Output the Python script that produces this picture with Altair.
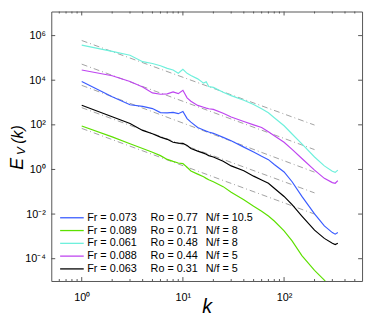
import altair as alt
import pandas as pd

# ---------------- data ----------------
k_values = [1, 2, 3, 4, 5, 6, 7, 8, 9, 10, 11, 12, 14, 16, 17, 18, 20,
            25, 30, 40, 50, 60, 70, 80, 100, 120, 150, 200, 250, 300, 320, 340]

# log10(E_V) read at each k
blue_log = [3.94, 3.26, 2.90, 2.83, 2.73, 2.55, 2.54, 2.56, 2.50, 2.60, 2.28, 2.12, 1.88, 1.77, 1.72, 1.68, 1.62,
            1.44, 1.29, 1.00, 0.78, 0.59, 0.44, 0.22, -0.11, -0.55, -1.21, -1.99, -2.53, -2.83, -2.90, -2.83]
green_log = [1.95, 1.46, 1.15, 0.94, 0.77, 0.62, 0.45, 0.36, 0.29, 0.26, 0.10, -0.07, -0.21, -0.33, -0.40, -0.46, -0.55,
             -0.77, -1.02, -1.36, -1.65, -1.87, -2.09, -2.31, -2.75, -3.20, -3.86, -4.52, -4.96, -5.40, -5.50, -5.30]
cyan_log = [5.57, 5.29, 5.12, 4.83, 4.75, 4.65, 4.53, 4.46, 4.31, 4.49, 4.31, 4.21, 4.06, 3.87, 3.93, 3.72, 3.68,
            3.46, 3.31, 3.10, 2.91, 2.72, 2.54, 2.32, 1.96, 1.59, 1.15, 0.56, 0.16, -0.08, -0.13, -0.03]
magenta_log = [4.46, 4.20, 3.94, 3.70, 3.43, 3.37, 3.39, 3.48, 3.40, 3.55, 3.21, 3.06, 2.87, 2.79, 2.75, 2.72, 2.69,
               2.52, 2.35, 2.15, 2.00, 1.88, 1.69, 1.51, 1.22, 0.90, 0.49, -0.03, -0.40, -0.59, -0.62, -0.50]
black_log = [2.88, 2.36, 2.06, 1.75, 1.60, 1.45, 1.35, 1.22, 1.18, 1.17, 1.07, 0.94, 0.82, 0.73, 0.68, 0.62, 0.56,
             0.37, 0.16, -0.06, -0.30, -0.47, -0.62, -0.84, -1.21, -1.58, -2.09, -2.72, -3.09, -3.31, -3.37, -3.31]

series_names = ["blue", "green", "cyan", "magenta", "black"]
series_colors = ["#3a5cff", "#5de000", "#6ff0dc", "#bf45f0", "#000000"]
series_logs = [blue_log, green_log, cyan_log, magenta_log, black_log]

fr_labels = ["Fr = 0.073", "Fr = 0.089", "Fr = 0.061", "Fr = 0.088", "Fr = 0.063"]
ro_labels = ["Ro = 0.77", "Ro = 0.71", "Ro = 0.48", "Ro = 0.44", "Ro = 0.31"]
nf_labels = ["N/f = 10.5", "N/f = 8", "N/f = 8", "N/f = 5", "N/f = 5"]

# k^-5/3 reference lines: log10 E at k = 1 and at k = 200
ref_k = [1, 200]
ref_start_log = [5.78, 4.72, 3.77, 2.77, 1.84]
ref_end_log = [1.99, 0.89, -0.12, -1.05, -2.00]

x_major = [1, 10, 100]
x_minor = [0.6, 0.7, 0.8, 0.9, 2, 3, 4, 5, 6, 7, 8, 9, 20, 30, 40, 50, 60, 70, 80, 90, 200, 300, 400, 500]
y_major = [1e-4, 1e-2, 1, 1e2, 1e4, 1e6]

# ---------------- tables ----------------
rows = []
for name, logs in zip(series_names, series_logs):
    for k, v in zip(k_values, logs):
        rows.append({"series": name, "k": k, "logE": v})
curve_df = pd.DataFrame(rows)

ref_rows = []
for i, (a, b) in enumerate(zip(ref_start_log, ref_end_log)):
    ref_rows.append({"ref": i, "k": ref_k[0], "logE": a})
    ref_rows.append({"ref": i, "k": ref_k[1], "logE": b})
ref_df = pd.DataFrame(ref_rows)

leg_df = pd.DataFrame({"row": list(range(5)), "series": series_names,
                       "fr": fr_labels, "ro": ro_labels, "nf": nf_labels})

W, H = 316, 274
FONT = "Liberation Sans"
FRAME = "#555555"

xs = alt.Scale(type="log", domain=[0.5, 590], nice=False)
ys = alt.Scale(type="log", domain=[1e-5, 1.2e7], nice=False)
cs = alt.Scale(domain=series_names, range=series_colors)

x_label_expr = "datum.value < 5 ? '10⁰' : datum.value < 50 ? '10¹' : '10²'"
y_label_expr = ("datum.value < 1e-3 ? '10⁻⁴' : datum.value < 0.1 ? '10⁻²' : datum.value < 10 ? '10⁰' : "
                "datum.value < 1e3 ? '10²' : datum.value < 1e5 ? '10⁴' : '10⁶'")

X_AXIS = alt.Axis(
    values=x_major, labelExpr=x_label_expr, tickSize=0, domain=False, grid=False,
    labelFont=FONT, labelFontSize=11, labelColor="black", labelPadding=11,
    title="k", titleFont=FONT, titleFontSize=20, titleFontStyle="italic",
    titleFontWeight="normal", titleColor="black", titleY=32, titleBaseline="alphabetic")
Y_AXIS = alt.Axis(
    values=y_major, labelExpr=y_label_expr, tickSize=0, domain=False, grid=False,
    labelFont=FONT, labelFontSize=11, labelColor="black", labelPadding=6, title="")

curves = alt.Chart(curve_df).transform_calculate(
    E="pow(10, datum.logE)"
).mark_line(strokeWidth=1.2, clip=True).encode(
    x=alt.X("k:Q", scale=xs, axis=X_AXIS),
    y=alt.Y("E:Q", scale=ys, axis=Y_AXIS),
    color=alt.Color("series:N", scale=cs, legend=None),
    detail="series:N",
)

refs = alt.Chart(ref_df).transform_calculate(
    E="pow(10, datum.logE)"
).mark_line(strokeWidth=0.8, color="#8a8a8a", strokeDash=[6, 3, 1, 3], clip=True).encode(
    x=alt.X("k:Q", scale=xs, axis=X_AXIS),
    y=alt.Y("E:Q", scale=ys, axis=Y_AXIS),
    detail="ref:N",
)

def xticks(vals, length):
    d = pd.DataFrame({"k": vals})
    bottom = alt.Chart(d).mark_rule(color=FRAME, strokeWidth=1).encode(
        x=alt.X("k:Q", scale=xs, axis=X_AXIS), y=alt.value(H), y2=alt.value(H - length))
    top = alt.Chart(d).mark_rule(color=FRAME, strokeWidth=1).encode(
        x=alt.X("k:Q", scale=xs, axis=X_AXIS), y=alt.value(0), y2=alt.value(length))
    return [bottom, top]

def yticks(vals, length):
    d = pd.DataFrame({"E": vals})
    left = alt.Chart(d).mark_rule(color=FRAME, strokeWidth=1).encode(
        y=alt.Y("E:Q", scale=ys, axis=Y_AXIS), x=alt.value(0), x2=alt.value(length))
    right = alt.Chart(d).mark_rule(color=FRAME, strokeWidth=1).encode(
        y=alt.Y("E:Q", scale=ys, axis=Y_AXIS), x=alt.value(W), x2=alt.value(W - length))
    return [left, right]

tick_layers = xticks(x_major, 4) + xticks(x_minor, 2) + yticks(y_major, 4)

# legend drawn inside the plot (lower left)
leg_base = alt.Chart(leg_df).transform_calculate(py="209.7 + 13 * datum.row")
leg_lines = leg_base.transform_calculate(x1="9", x2v="33").mark_rule(strokeWidth=1.3).encode(
    x=alt.X("x1:Q", scale=None), x2="x2v:Q", y=alt.Y("py:Q", scale=None),
    color=alt.Color("series:N", scale=cs, legend=None))

def leg_text(field, px):
    return leg_base.transform_calculate(px=str(px)).mark_text(
        align="left", baseline="middle", font=FONT, fontSize=11, color="black").encode(
        x=alt.X("px:Q", scale=None), y=alt.Y("py:Q", scale=None), text=f"{field}:N")

leg_texts = [leg_text("fr", 36.5), leg_text("ro", 101), leg_text("nf", 157)]

# y-axis title E_V (k), rotated
def ytitle(txt, x, y, size):
    return alt.Chart(pd.DataFrame({"t": [txt]})).mark_text(
        angle=270, align="center", baseline="middle", font=FONT, fontSize=size,
        fontStyle="italic", color="black").encode(text="t:N", x=alt.value(x), y=alt.value(y))

ytitles = [ytitle("E", -33.5, 155, 18), ytitle("V", -31, 142, 12), ytitle("(k)", -33.5, 125, 16)]

chart = alt.layer(
    refs, curves, *tick_layers, leg_lines, *leg_texts, *ytitles
).properties(
    width=W, height=H,
    padding={"left": 44, "top": 1, "right": 4, "bottom": 33},
    autosize=alt.AutoSizeParams(type="none"),
    background="white",
).configure_view(stroke=FRAME, strokeWidth=1)

chart.save("out.html", embed_options={"renderer": "svg", "actions": False})
